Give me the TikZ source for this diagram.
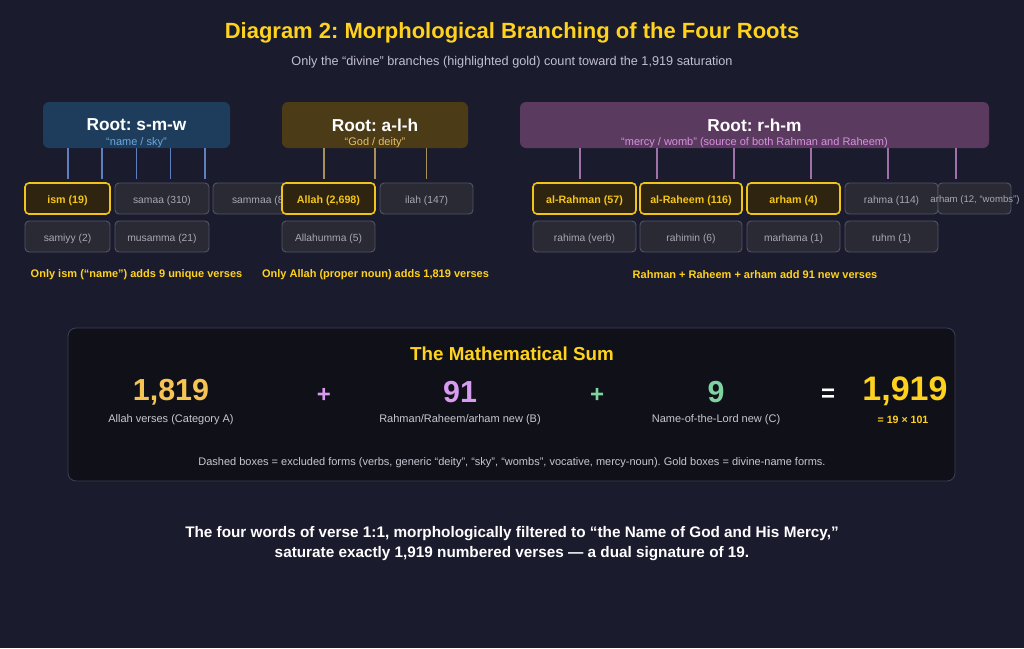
\documentclass[tikz,border=0pt]{standalone}
\usepackage{fontspec}
\setmainfont{Liberation Sans}
\frenchspacing
\usetikzlibrary{positioning}
\definecolor{bg}{HTML}{1B1B2E}
\definecolor{sumfill}{HTML}{101018}
\definecolor{sumline}{HTML}{3C3C58}
\definecolor{gold}{HTML}{FFD21E}
\definecolor{subgrey}{HTML}{C0C0D0}
\definecolor{lblgrey}{HTML}{C8C8D4}
\definecolor{smwfill}{HTML}{1E3D5C}
\definecolor{smwsub}{HTML}{6AA8E0}
\definecolor{smwln}{HTML}{5F80C0}
\definecolor{alhfill}{HTML}{4B3B17}
\definecolor{alhsub}{HTML}{E8C060}
\definecolor{alhln}{HTML}{A89058}
\definecolor{rhmfill}{HTML}{5B3A5F}
\definecolor{rhmsub}{HTML}{D890E0}
\definecolor{rhmln}{HTML}{A070A8}
\definecolor{leaffill}{HTML}{2A2A35}
\definecolor{leafline}{HTML}{545468}
\definecolor{leaftext}{HTML}{A8A8B0}
\definecolor{goldfill}{HTML}{2E2410}
\definecolor{goldline}{HTML}{F0C419}
\definecolor{goldtext}{HTML}{F5C518}
\definecolor{numa}{HTML}{F6C453}
\definecolor{numb}{HTML}{D79BF0}
\definecolor{numc}{HTML}{7ED3A0}
\newcommand{\fsz}[1]{\fontsize{#1}{#1}\selectfont}
\tikzset{
    %Define style for root boxes
    rootbox/.style={
           rectangle, rounded corners=6pt,
           minimum height=46pt,
           inner sep=0pt},
    %Define style for leaf boxes
    leaf/.style={
           rectangle, rounded corners=4pt,
           draw=leafline, fill=leaffill, text=leaftext,
           line width=0.9pt,
           minimum height=31pt,
           text height=9pt, text depth=0pt,
           inner sep=0pt,
           font=\fsz{10.3}},
    divine/.style={
           leaf,
           draw=goldline, fill=goldfill, text=goldtext,
           line width=1.6pt,
           font=\fsz{10.7}\bfseries},
    % Define link style
    lnk/.style={
           line width=1.4pt}
}
\begin{document}
\begin{tikzpicture}[x=1pt, y=-1pt,
roottitle/.style={text=white, font=\fsz{17.3}\bfseries, inner sep=0pt},
rootsub/.style={font=\fsz{11}, inner sep=0pt},
caption/.style={text=gold, font=\fsz{11}\bfseries, inner sep=0pt},
bignum/.style={font=\fsz{30.4}\bfseries, inner sep=0pt},
numlbl/.style={text=lblgrey, font=\fsz{11}, inner sep=0pt},
sign/.style={font=\fsz{24}\bfseries, inner sep=0pt}
]
\fill[bg] (0,0) rectangle (1024,648);
%Heading
\node[text=gold, font=\fsz{22}\bfseries, inner sep=0pt] (title) at (512,33) {Diagram 2: Morphological Branching of the Four Roots};
\node[text=subgrey, font=\fsz{12.7}, inner sep=0pt] (subtitle) at (512,62) {Only the “divine” branches (highlighted gold) count toward the 1,919 saturation};
%Roots
\node[rootbox, fill=smwfill, minimum width=187pt] (smw) at (136.5,125) {};
\node[roottitle] (smwt) at (136.5,125) {Root: s-m-w};
\node[rootsub, text=smwsub] (smws) at (136.5,142.5) {“name / sky”};
\node[rootbox, fill=alhfill, minimum width=186pt] (alh) at (375,125) {};
\node[roottitle] (alht) at (375,125) {Root: a-l-h};
\node[rootsub, text=alhsub] (alhs) at (375,142.5) {“God / deity”};
\node[rootbox, fill=rhmfill, minimum width=469pt] (rhm) at (754.5,125) {};
\node[roottitle] (rhmt) at (754.5,125) {Root: r-h-m};
\node[rootsub, text=rhmsub] (rhms) at (754.5,142.5) {“mercy / womb” (source of both Rahman and Raheem)};
%Links
\foreach \x [count=\i] in {68,102,136.5,170.5,205} {
  \coordinate (smwend\i) at (\x,179);
  \draw[lnk, smwln] (smw.south -| smwend\i) -- (smwend\i);
}
\foreach \x [count=\i] in {324,375,426.5} {
  \coordinate (alhend\i) at (\x,179);
  \draw[lnk, alhln] (alh.south -| alhend\i) -- (alhend\i);
}
\foreach \x [count=\i] in {580,657,734,811,888,956} {
  \coordinate (rhmend\i) at (\x,179);
  \draw[lnk, rhmln] (rhm.south -| rhmend\i) -- (rhmend\i);
}
%Leaves s-m-w
\node[divine, minimum width=85pt] (ism) at (67.5,198.5) {ism (19)};
\node[leaf, minimum width=94pt] (samaa) at (162,198.5) {samaa (310)};
\node[leaf, minimum width=93pt] (sammaa) at (259.5,198.5) {sammaa (8)};
\node[leaf, minimum width=85pt] (samiyy) at (67.5,236.5) {samiyy (2)};
\node[leaf, minimum width=94pt] (musamma) at (162,236.5) {musamma (21)};
%Leaves a-l-h
\node[divine, minimum width=93pt] (allah) at (328.5,198.5) {Allah (2,698)};
\node[leaf, minimum width=93pt] (ilah) at (426.5,198.5) {ilah (147)};
\node[leaf, minimum width=93pt] (allahumma) at (328.5,236.5) {Allahumma (5)};
%Leaves r-h-m
\node[divine, minimum width=103pt] (rahman) at (584.5,198.5) {al-Rahman (57)};
\node[divine, minimum width=102pt] (raheem) at (691,198.5) {al-Raheem (116)};
\node[divine, minimum width=93pt] (arham) at (793.5,198.5) {arham (4)};
\node[leaf, minimum width=93pt] (rahma) at (891.5,198.5) {rahma (114)};
\node[leaf, minimum width=73pt] (arhamw) at (974.5,198.5) {};
\node[text=leaftext, font=\fsz{9.6}, inner sep=0pt] (arhamwt) at (975,200.5) {arham (12, “wombs”)};
\node[leaf, minimum width=103pt] (rahima) at (584.5,236.5) {rahima (verb)};
\node[leaf, minimum width=102pt] (rahimin) at (691,236.5) {rahimin (6)};
\node[leaf, minimum width=93pt] (marhama) at (793.5,236.5) {marhama (1)};
\node[leaf, minimum width=93pt] (ruhm) at (891.5,236.5) {ruhm (1)};
%Captions
\node[caption] (smwcap) at (136.5,275) {Only ism (“name”) adds 9 unique verses};
\node[caption] (alhcap) at (375.5,275) {Only Allah (proper noun) adds 1,819 verses};
\node[caption] (rhmcap) at (755,275) {Rahman + Raheem + arham add 91 new verses};
%Sum
\node[rectangle, rounded corners=8pt, draw=sumline, fill=sumfill, line width=0.9pt, minimum width=887pt, minimum height=153pt] (sum) at (511.5,404.5) {};
\node[text=gold, font=\fsz{18.8}\bfseries, inner sep=0pt] (sumt) at (512,354) {The Mathematical Sum};
\node[bignum, text=numa] (cata) at (171,392) {1,819};
\node[numlbl] (cataL) at (171,420) {Allah verses (Category A)};
\node[sign, text=numb] (plus1) at (324,395) {+};
\node[bignum, text=numb] (catb) at (460,392) {91};
\node[numlbl] (catbL) at (460,420) {Rahman/Raheem/arham new (B)};
\node[sign, text=numc] (plus2) at (597,395) {+};
\node[bignum, text=numc] (catc) at (716,392) {9};
\node[numlbl] (catcL) at (716,420) {Name-of-the-Lord new (C)};
\node[sign, text=white] (eq) at (828,395) {=};
\node[text=gold, font=\fsz{34}\bfseries, inner sep=0pt] (total) at (905,391) {1,919};
\node[text=gold, font=\fsz{10.6}\bfseries, inner sep=0pt] (totalL) at (903,420) {= 19 × 101};
\node[text=lblgrey, font=\fsz{11}, inner sep=0pt] (note) at (512,463) {Dashed boxes = excluded forms (verbs, generic “deity”, “sky”, “wombs”, vocative, mercy-noun). Gold boxes = divine-name forms.};
%Closing text
\node[text=white, font=\fontsize{15.3}{20}\selectfont\bfseries, align=center, inner sep=0pt] (closing) at (512,544) {The four words of verse 1:1, morphologically filtered to “the Name of God and His Mercy,”\\saturate exactly 1,919 numbered verses — a dual signature of 19.};
\end{tikzpicture}
\end{document}
